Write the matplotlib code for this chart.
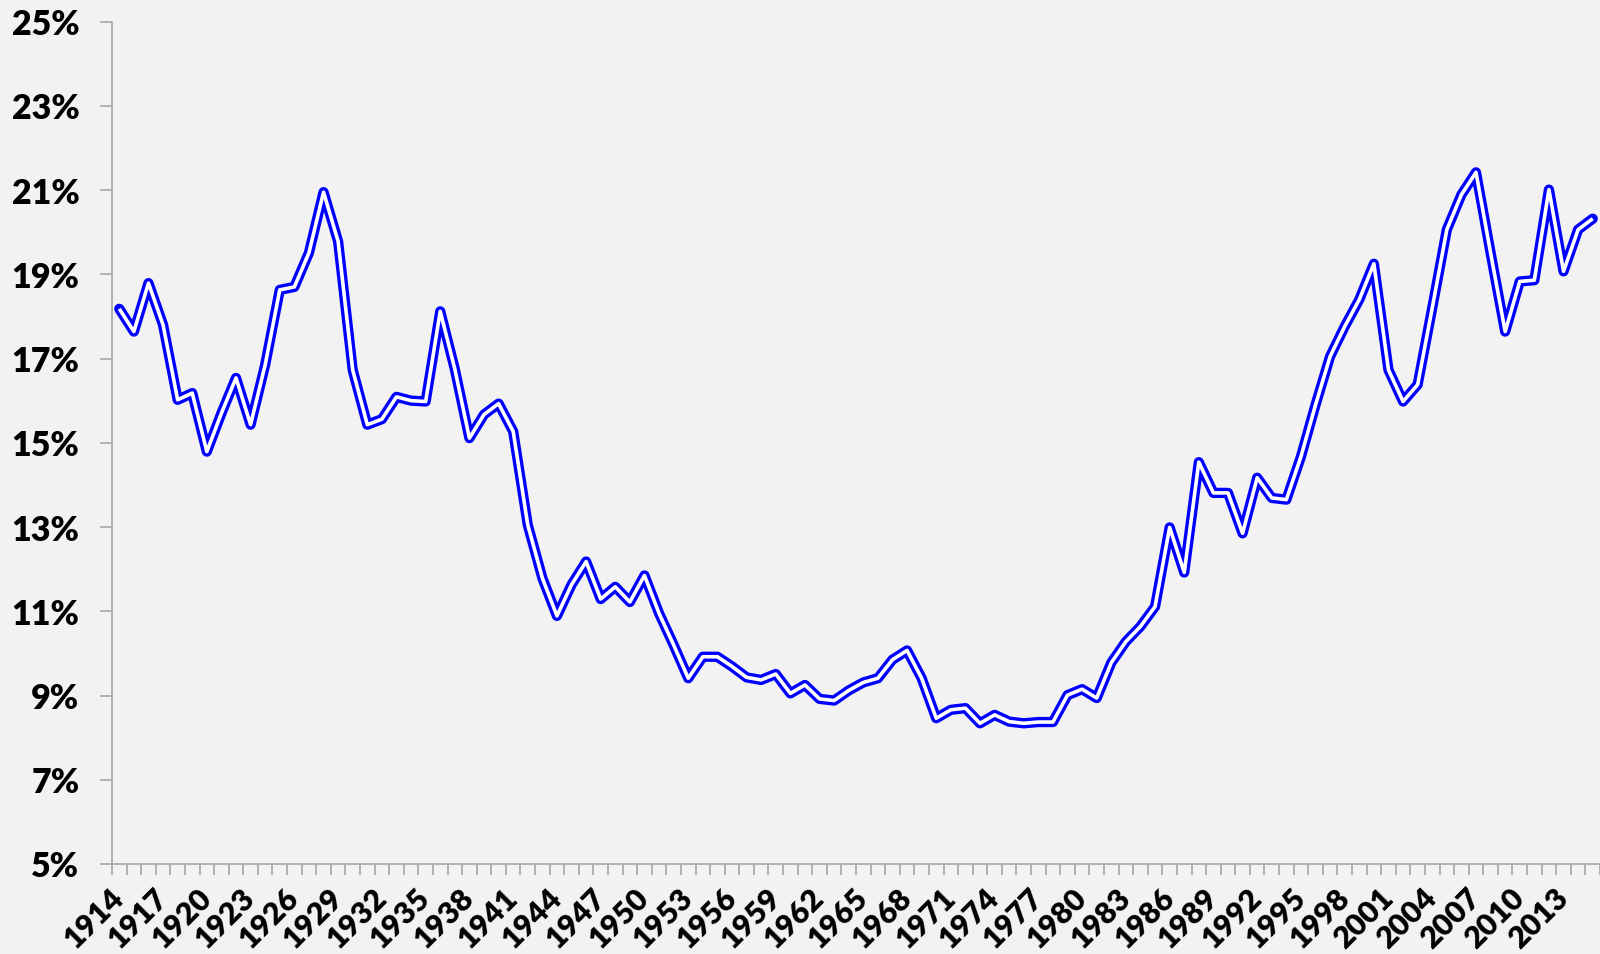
import matplotlib
matplotlib.use("Agg")
import matplotlib.pyplot as plt
from matplotlib.ticker import FixedLocator, FuncFormatter

# share of income (%) by year
years = list(range(1914, 2016))
share = [
    18.18, 17.64, 18.79, 17.80, 16.02, 16.18, 14.79, 15.70, 16.54, 15.43,
    16.85, 18.63, 18.70, 19.51, 20.95, 19.78, 16.73, 15.43, 15.56, 16.09,
    16.00, 15.98, 18.12, 16.75, 15.11, 15.67, 15.93, 15.27, 13.05, 11.79,
    10.89, 11.63, 12.18, 11.29, 11.58, 11.22, 11.85, 10.95, 10.20, 9.41,
    9.92, 9.92, 9.69, 9.43, 9.37, 9.51, 9.05, 9.25, 8.92, 8.88,
    9.12, 9.31, 9.41, 9.85, 10.07, 9.41, 8.46, 8.66, 8.70, 8.34,
    8.54, 8.38, 8.34, 8.37, 8.37, 9.01, 9.15, 8.94, 9.78, 10.28,
    10.64, 11.11, 12.99, 11.92, 14.54, 13.81, 13.81, 12.85, 14.17, 13.69,
    13.65, 14.67, 15.90, 17.05, 17.76, 18.40, 19.25, 16.73, 15.98, 16.38,
    18.20, 20.06, 20.89, 21.42, 19.51, 17.64, 18.83, 18.86, 21.01, 19.07,
    20.06, 20.32,
]
y_ticks = [5, 7, 9, 11, 13, 15, 17, 19, 21, 23, 25]
label_every = 3

BG = "#F2F2F2"
AXIS = "#A6A6A6"

fig = plt.figure(figsize=(16, 9.545), dpi=100, facecolor=BG)
ax = fig.add_axes([0.07, 0.0943, 0.93, 0.8826])
ax.set_facecolor(BG)

idx = list(range(len(years)))
# double line: thick blue with a thin white core
ax.plot(idx, share, color="#0000FF", linewidth=7.4, solid_joinstyle="round",
        solid_capstyle="round", zorder=3)
ax.plot(idx, share, color="white", linewidth=2.6, solid_joinstyle="round",
        solid_capstyle="butt", zorder=4)

ax.set_xlim(-0.5, len(years) - 0.5)
ax.set_ylim(5, 25)

ax.yaxis.set_major_locator(FixedLocator(y_ticks))
ax.yaxis.set_major_formatter(FuncFormatter(lambda v, p: f"{v:.0f}%"))

lab_pos = idx[::label_every]
ax.xaxis.set_major_locator(FixedLocator(lab_pos))
ax.set_xticklabels([str(years[i]) for i in lab_pos])
ax.xaxis.set_minor_locator(FixedLocator([i - 0.5 for i in range(len(years) + 1)]))

ax.tick_params(axis="x", which="major", length=0, pad=21)
ax.tick_params(axis="x", which="minor", length=8, width=1.2, color=AXIS, direction="out")
ax.tick_params(axis="y", length=8.5, width=1.2, color=AXIS, direction="out", pad=15)

for lbl in ax.get_yticklabels():
    lbl.set_fontfamily("Lato")
    lbl.set_fontweight("heavy")
    lbl.set_fontsize(24.5)
for lbl in ax.get_xticklabels():
    lbl.set_fontfamily("Lato")
    lbl.set_fontweight("heavy")
    lbl.set_fontsize(22)
    lbl.set_rotation(45)
    lbl.set_rotation_mode("anchor")
    lbl.set_ha("right")
    lbl.set_va("center")

for side in ("top", "right"):
    ax.spines[side].set_visible(False)
for side in ("left", "bottom"):
    ax.spines[side].set_color(AXIS)
    ax.spines[side].set_linewidth(1.2)

fig.savefig("out.png", dpi=100, facecolor=BG)
